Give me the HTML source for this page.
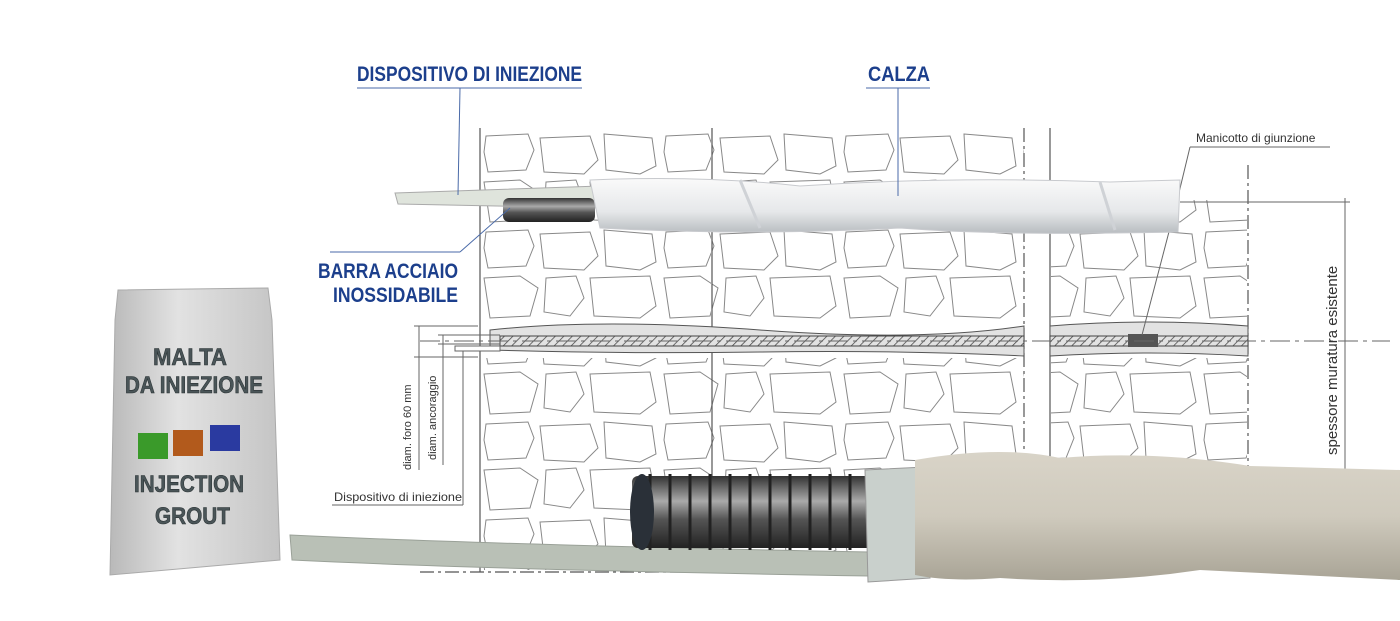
<!DOCTYPE html>
<html><head><meta charset="utf-8"><style>
body{margin:0;background:#fff;width:1400px;height:616px;overflow:hidden;font-family:"Liberation Sans",sans-serif}
</style></head><body>
<svg width="1400" height="616" viewBox="0 0 1400 616" xmlns="http://www.w3.org/2000/svg">
<defs>
<pattern id="st" x="480" y="130" width="180" height="96" patternUnits="userSpaceOnUse">
<g fill="none" stroke="#888" stroke-width="1">
<path d="M6 6 L48 4 L54 20 L46 40 L8 42 L4 22Z"/>
<path d="M60 8 L110 6 L118 30 L104 44 L64 42Z"/>
<path d="M124 4 L172 8 L176 36 L160 44 L126 40Z"/>
<path d="M4 52 L40 50 L58 62 L50 90 L10 92Z"/>
<path d="M66 52 L96 50 L104 72 L90 90 L64 86Z"/>
<path d="M110 52 L170 50 L176 80 L160 92 L114 90Z"/>
</g></pattern>
<pattern id="hat" width="6" height="6" patternUnits="userSpaceOnUse" patternTransform="rotate(45)">
<line x1="0" y1="0" x2="0" y2="6" stroke="#444" stroke-width="1.5"/></pattern>
<linearGradient id="sock" x1="0" y1="0" x2="0" y2="1"><stop offset="0" stop-color="#fafafa"/><stop offset=".6" stop-color="#e6e8ea"/><stop offset="1" stop-color="#b8bcc0"/></linearGradient>
<linearGradient id="bar" x1="0" y1="0" x2="0" y2="1"><stop offset="0" stop-color="#333"/><stop offset=".35" stop-color="#aaa"/><stop offset=".6" stop-color="#555"/><stop offset="1" stop-color="#222"/></linearGradient>
<linearGradient id="sk2" x1="0" y1="0" x2="0" y2="1"><stop offset="0" stop-color="#d9d4c8"/><stop offset=".5" stop-color="#cfcabd"/><stop offset="1" stop-color="#a9a496"/></linearGradient>
<linearGradient id="bag" x1="0" y1="0" x2="1" y2="0"><stop offset="0" stop-color="#b9b9b9"/><stop offset=".4" stop-color="#e2e2e2"/><stop offset="1" stop-color="#c4c4c4"/></linearGradient>
</defs>
<rect x="481" y="130" width="230" height="192" fill="url(#st)"/>
<rect x="712" y="130" width="312" height="192" fill="url(#st)"/>
<rect x="1051" y="200" width="196" height="122" fill="url(#st)"/>
<rect x="481" y="358" width="543" height="212" fill="url(#st)"/>
<rect x="1051" y="358" width="196" height="120" fill="url(#st)"/>
<g stroke="#555" stroke-width="1.2" fill="none">
<line x1="480" y1="128" x2="480" y2="572"/>
<line x1="712" y1="128" x2="712" y2="572"/>
<line x1="1050" y1="128" x2="1050" y2="480"/>
<line x1="1024" y1="128" x2="1024" y2="480" stroke-dasharray="14 4 3 4"/>
<line x1="1248" y1="165" x2="1248" y2="480" stroke-dasharray="14 4 3 4"/>
<line x1="420" y1="572" x2="700" y2="572" stroke-dasharray="14 4 3 4"/>
</g>
<path d="M490 330 Q600 318 760 330 T1024 326 L1024 356 Q900 350 760 352 T490 350Z" fill="#e2e2e2" stroke="#555"/>
<path d="M1050 326 Q1150 318 1248 326 L1248 356 Q1150 350 1050 356Z" fill="#e2e2e2" stroke="#555"/>
<rect x="500" y="336" width="524" height="10" fill="url(#hat)" stroke="#444"/>
<rect x="1050" y="336" width="198" height="10" fill="url(#hat)" stroke="#444"/>
<rect x="1128" y="334" width="30" height="13" fill="#555"/>
<g stroke="#666" stroke-width="1">
<line x1="420" y1="341" x2="1390" y2="341" stroke-dasharray="20 5 4 5"/>
<line x1="414" y1="326" x2="478" y2="326"/><line x1="414" y1="357" x2="478" y2="357"/>
<line x1="438" y1="335" x2="500" y2="335"/><line x1="438" y1="344" x2="500" y2="344"/>
<line x1="419" y1="326" x2="419" y2="470"/><line x1="443" y1="335" x2="443" y2="465"/>
<line x1="463" y1="350" x2="463" y2="505"/>
<line x1="332" y1="505" x2="463" y2="505"/>
<line x1="1180" y1="202" x2="1350" y2="202"/>
<line x1="1250" y1="476" x2="1350" y2="476"/>
<line x1="1345" y1="198" x2="1345" y2="480"/>
<line x1="1190" y1="147" x2="1330" y2="147"/>
<line x1="1190" y1="147" x2="1176" y2="205"/>
<line x1="1176" y1="205" x2="1142" y2="335"/>
</g>
<rect x="455" y="346" width="45" height="5" fill="#fff" stroke="#666"/>
<text x="411" y="470" transform="rotate(-90 411 470)" font-size="11" fill="#333">diam. foro 60 mm</text>
<text x="436" y="460" transform="rotate(-90 436 460)" font-size="11" fill="#333">diam. ancoraggio</text>
<text x="334" y="501" font-size="12" fill="#333" textLength="128" lengthAdjust="spacingAndGlyphs">Dispositivo di iniezione</text>
<text x="1196" y="142" font-size="12" fill="#333">Manicotto di giunzione</text>
<text x="1337" y="455" transform="rotate(-90 1337 455)" font-size="15" fill="#333">spessore muratura esistente</text>
<path d="M395 193 L600 186 L600 208 L398 204Z" fill="#dfe4dc" stroke="#aaa"/>
<rect x="503" y="198" width="92" height="24" rx="6" fill="url(#bar)"/>
<path d="M590 180 Q700 175 800 186 Q950 176 1110 182 L1180 180 L1178 232 Q1000 236 900 228 Q750 236 600 228 Z" fill="url(#sock)" stroke="#c8cace"/>
<path d="M740 180 L760 228 M1100 182 L1115 230" stroke="#cfd2d6" stroke-width="3"/>
<g font-weight="bold" fill="#1c3f8c">
<text x="357" y="81" font-size="21" textLength="225" lengthAdjust="spacingAndGlyphs">DISPOSITIVO DI INIEZIONE</text>
<text x="868" y="81" font-size="21" textLength="62" lengthAdjust="spacingAndGlyphs">CALZA</text>
<text x="318" y="278" font-size="21" textLength="140" lengthAdjust="spacingAndGlyphs">BARRA ACCIAIO</text>
<text x="333" y="302" font-size="21" textLength="125" lengthAdjust="spacingAndGlyphs">INOSSIDABILE</text>
</g>
<g stroke="#4a6aa8" stroke-width="1">
<line x1="357" y1="88" x2="582" y2="88"/><line x1="460" y1="88" x2="458" y2="195"/>
<line x1="866" y1="88" x2="930" y2="88"/><line x1="898" y1="88" x2="898" y2="196"/>
<line x1="330" y1="252" x2="460" y2="252"/><line x1="460" y1="252" x2="510" y2="208"/>
</g>
<path d="M118 290 L268 288 L272 320 L280 560 L110 575 L115 320Z" fill="url(#bag)" stroke="#aaa"/>
<g font-weight="bold" fill="#4a5558" stroke="#2a3234" stroke-width=".6">
<text x="153" y="365" font-size="24" textLength="74" lengthAdjust="spacingAndGlyphs">MALTA</text>
<text x="125" y="393" font-size="24" textLength="138" lengthAdjust="spacingAndGlyphs">DA INIEZIONE</text>
<text x="134" y="492" font-size="24" textLength="110" lengthAdjust="spacingAndGlyphs">INJECTION</text>
<text x="155" y="524" font-size="24" textLength="75" lengthAdjust="spacingAndGlyphs">GROUT</text>
</g>
<rect x="138" y="433" width="30" height="26" fill="#3a9a2a"/>
<rect x="173" y="430" width="30" height="26" fill="#b25a1c"/>
<rect x="210" y="425" width="30" height="26" fill="#2a3aa0"/>
<path d="M290 535 Q500 545 870 552 L870 576 Q500 570 292 560Z" fill="#b9c0b6" stroke="#9aa198"/>
<rect x="632" y="476" width="245" height="72" rx="6" fill="url(#bar)"/>
<g stroke="#222" stroke-width="3">
<line x1="650" y1="474" x2="650" y2="550"/><line x1="670" y1="474" x2="670" y2="550"/><line x1="690" y1="474" x2="690" y2="550"/><line x1="710" y1="474" x2="710" y2="550"/><line x1="730" y1="474" x2="730" y2="550"/><line x1="750" y1="474" x2="750" y2="550"/><line x1="770" y1="474" x2="770" y2="550"/><line x1="790" y1="474" x2="790" y2="550"/><line x1="810" y1="474" x2="810" y2="550"/><line x1="830" y1="474" x2="830" y2="550"/><line x1="850" y1="474" x2="850" y2="550"/>
</g>
<ellipse cx="642" cy="512" rx="12" ry="38" fill="#2a3038"/>
<path d="M865 470 L925 467 L930 578 L868 582Z" fill="#c9d0cc" stroke="#999"/>
<path d="M915 460 Q1000 445 1060 458 Q1150 450 1250 466 L1400 470 L1400 580 Q1300 575 1200 570 Q1100 585 1000 578 Q950 582 915 575Z" fill="url(#sk2)"/>
</svg>
</body></html>
